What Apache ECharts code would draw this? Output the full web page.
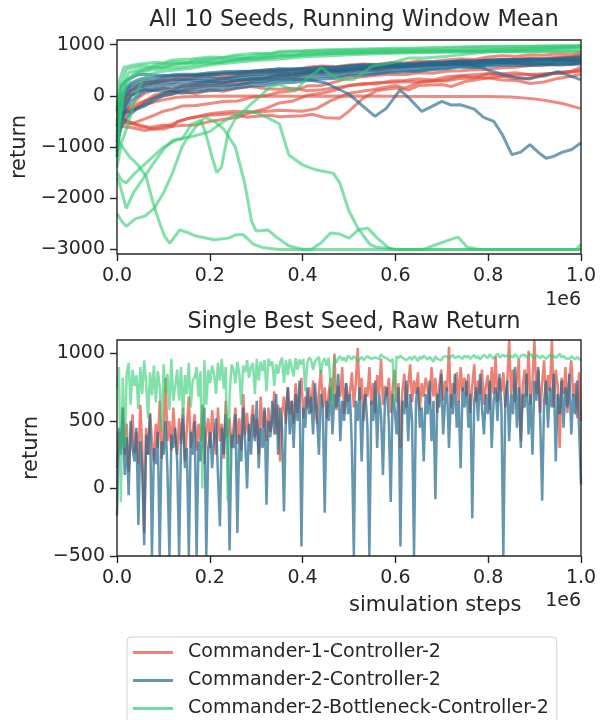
<!DOCTYPE html>
<html><head><meta charset="utf-8">
<script src="https://cdn.jsdelivr.net/npm/echarts@6/dist/echarts.min.js"></script>
<style>html,body{margin:0;padding:0;background:#fff}#c{width:604px;height:720px}</style>
</head><body><div id="c"></div>
<script>
// ---- names / labels ----
const seriesNames = ['Commander-1-Controller-2','Commander-2-Controller-2','Commander-2-Bottleneck-Controller-2'];
const xTicks = [0, 200000, 400000, 600000, 800000, 1000000];
const topYTicks = [-3000, -2000, -1000, 0, 1000];
const bottomYTicks = [-500, 0, 500, 1000];

// ---- top panel: running window mean (x in millions of steps) ----
// shared x grid for the seeds that stay inside the main band
const bandX = [0,0.005,0.01,0.02,0.03,0.045,0.06,0.08,0.1,0.12,0.14,0.17,0.2,0.23,0.26,0.29,0.32,0.35,0.38,0.41,0.44,0.47,0.5,0.53,0.56,0.59,0.62,0.65,0.68,0.71,0.74,0.77,0.8,0.83,0.86,0.89,0.92,0.95,0.98,1.0];

// Commander-1-Controller-2 seeds
const c1s1 = [[0,-500],[0.02,-300],[0.05,-200],[0.08,-120],[0.1,-80],[0.13,-30],[0.15,-20],[0.2,-10],[0.3,-5],[0.4,-10],[0.5,-5],[0.6,-10],[0.7,-12],[0.8,-15],[0.85,-25],[0.9,-60],[0.93,-100],[0.96,-150],[1.0,-250]];
const c1s2 = [[0,-200],[0.01,-450],[0.04,-550],[0.07,-620],[0.1,-570],[0.12,-600],[0.13,-500],[0.16,-430],[0.2,-380],[0.25,-350],[0.28,-420],[0.3,-400],[0.33,-380],[0.35,-410],[0.4,-390],[0.42,-360],[0.45,-430],[0.48,-440],[0.5,-300],[0.53,-50],[0.56,100],[0.6,150],[0.63,120],[0.65,200],[0.7,220],[0.72,180],[0.75,280],[0.8,350],[0.85,400],[0.9,420],[0.95,440],[1.0,480]];
const c1s3 = [[0,-300],[0.02,-500],[0.05,-600],[0.08,-650],[0.11,-580],[0.15,-450],[0.2,-350],[0.25,-300],[0.3,-320],[0.35,-280],[0.4,-300],[0.43,-250],[0.46,-100],[0.5,50],[0.55,120],[0.6,200],[0.62,150],[0.65,260],[0.7,300],[0.75,400],[0.8,430],[0.85,350],[0.88,330],[0.92,420],[0.96,450],[1.0,500]];
const c1s4 = [-100,-300,-350,-280,-250,-150,-100,-40,0,30,80,40,120,90,150,180,140,130,150,100,120,160,200,240,230,290,300,330,310,370,390,360,350,310,300,240,270,340,380,420];
const c1s5 = [-200,-350,-400,-300,-200,-50,50,110,150,120,200,240,280,250,300,330,340,390,350,420,450,440,480,510,500,540,570,580,610,620,640,650,690,680,700,720,710,740,760,780];
const c1s6 = [-300,-250,-200,-50,100,200,260,280,310,330,360,390,430,400,460,480,510,520,500,560,580,570,600,620,610,650,640,680,670,700,720,710,760,780,770,800,790,820,810,840];
const c1s7 = [-400,-450,-450,-380,-300,-200,-100,10,50,90,100,160,200,240,250,310,330,390,400,450,460,490,500,530,540,590,600,620,610,660,670,690,690,650,660,690,710,720,700,700];
const c1s8 = [-500,-510,-520,-540,-550,-500,-450,-380,-300,-260,-200,-190,-150,-110,-100,-30,0,70,100,190,200,270,350,370,400,420,410,450,440,480,490,510,520,550,560,590,600,610,630,650];
const c1s9 = [-350,-250,-200,-50,50,150,210,240,280,310,320,360,380,360,400,440,450,480,470,510,500,530,530,550,550,580,580,610,600,650,650,670,700,700,720,740,730,760,770,800];
const c1s10 = [-450,-550,-600,-610,-620,-650,-680,-650,-650,-590,-580,-570,-500,-460,-420,-320,-250,-140,-100,10,50,110,200,220,260,260,275,270,300,290,340,350,430,430,450,410,380,460,480,560];
// Commander-2-Controller-2 seeds
const c2s1 = [[0,-1000],[0.01,-300],[0.03,0],[0.06,150],[0.1,200],[0.15,250],[0.2,280],[0.25,300],[0.3,320],[0.35,330],[0.41,320],[0.45,250],[0.5,30],[0.53,-200],[0.556,-400],[0.58,-250],[0.61,117],[0.63,-50],[0.657,-305],[0.68,-200],[0.7,-110],[0.72,-180],[0.74,-175],[0.77,-260],[0.79,-420],[0.812,-500],[0.83,-750],[0.851,-1150],[0.87,-1100],[0.89,-955],[0.91,-1120],[0.925,-1220],[0.941,-1183],[0.96,-1100],[0.98,-1050],[1.0,-920]];
const c2s2 = [-900,-500,-200,0,100,150,200,230,250,260,300,340,350,330,380,410,420,450,430,470,500,490,520,540,550,570,570,590,610,610,620,600,500,420,360,330,400,470,380,310];
const c2s3 = [-800,-400,-100,100,200,260,300,310,350,390,400,400,420,450,450,480,480,500,520,530,560,560,580,600,600,620,620,640,660,660,680,680,700,710,710,720,720,730,750,760];
const c2s4 = [-1100,-700,-500,-250,-100,0,100,130,150,160,180,210,250,260,300,340,350,400,410,450,480,470,500,520,530,560,560,570,590,600,620,620,640,660,660,680,680,680,690,700];
const c2s5 = [-700,-500,-350,-320,-300,-250,-200,-90,0,40,100,130,150,170,200,260,280,350,370,400,430,420,470,490,500,530,540,540,570,590,610,600,630,650,650,650,660,680,680,690];
const c2s6 = [-600,-200,0,150,250,310,350,360,380,410,420,420,450,470,480,480,500,530,530,540,560,550,580,600,600,620,620,630,650,660,680,670,690,700,700,710,710,710,720,740];
const c2s7 = [-1200,-700,-400,-150,0,80,120,100,100,90,50,80,100,120,150,190,200,250,260,300,330,340,400,400,430,460,470,480,510,530,560,550,580,590,590,590,600,620,620,640];
const c2s8 = [-500,-250,-100,50,150,210,250,270,300,320,320,300,300,340,350,380,380,420,430,470,490,500,520,550,560,590,590,600,620,620,640,630,650,650,640,620,620,600,610,620];
const c2s9 = [-900,-750,-600,-450,-350,-240,-150,-40,50,90,150,190,200,200,220,250,250,300,310,350,380,370,420,440,450,480,490,500,530,550,580,570,600,620,620,640,630,660,660,680];
const c2s10 = [-300,0,200,300,350,410,420,400,400,380,380,400,400,430,430,460,460,470,490,490,510,500,540,570,570,590,590,610,610,640,660,650,680,700,700,710,710,720,710,720];
// Commander-2-Bottleneck-Controller-2 seeds
const bnS1 = [[0,-300],[0.005,300],[0.015,560],[0.03,590],[0.05,620],[0.08,650],[0.1,640],[0.12,700],[0.16,720],[0.2,760],[0.23,750],[0.25,790],[0.3,830],[0.33,820],[0.35,870],[0.4,880],[0.45,900],[0.5,910],[0.55,920],[0.6,930],[0.65,935],[0.7,950],[0.8,970],[0.9,975],[1.0,985]];
const bnS2 = [[0,-600],[0.008,200],[0.02,520],[0.05,580],[0.07,570],[0.09,620],[0.13,660],[0.15,650],[0.17,700],[0.21,730],[0.26,770],[0.28,760],[0.3,800],[0.35,840],[0.4,870],[0.45,880],[0.5,890],[0.6,910],[0.7,920],[0.75,940],[0.8,950],[0.9,965],[1.0,975]];
const bnS3 = [[0,-900],[0.01,100],[0.025,450],[0.05,520],[0.08,560],[0.1,550],[0.12,600],[0.16,640],[0.2,660],[0.22,650],[0.25,700],[0.3,760],[0.35,800],[0.38,790],[0.4,830],[0.45,850],[0.5,860],[0.55,870],[0.6,880],[0.7,880],[0.8,900],[0.9,930],[1.0,960]];
const bnS4 = [[0,-1200],[0.01,-200],[0.02,300],[0.04,450],[0.07,500],[0.1,540],[0.14,560],[0.18,610],[0.22,650],[0.26,700],[0.3,720],[0.35,760],[0.4,790],[0.45,820],[0.5,840],[0.6,850],[0.7,860],[0.8,870],[0.9,870],[1.0,880]];
const bnS5 = [[0,-1000],[0.006,-500],[0.015,100],[0.03,350],[0.05,480],[0.08,560],[0.12,620],[0.16,650],[0.2,690],[0.25,720],[0.3,740],[0.35,780],[0.4,810],[0.5,830],[0.6,860],[0.7,880],[0.8,900],[0.9,920],[1.0,940]];
const bnS6 = [[0,-1400],[0.01,-900],[0.024,-565],[0.04,0],[0.055,300],[0.068,410],[0.09,470],[0.12,500],[0.16,540],[0.2,600],[0.25,650],[0.3,690],[0.35,720],[0.4,760],[0.5,800],[0.6,830],[0.7,850],[0.8,860],[0.9,860],[1.0,870]];
const bnS7 = [[0,-1600],[0.005,-1700],[0.02,-2200],[0.035,-1900],[0.05,-1700],[0.08,-1300],[0.1,-1050],[0.12,-870],[0.14,-850],[0.16,-560],[0.18,-480],[0.19,-700],[0.205,-1200],[0.215,-1500],[0.225,-1400],[0.24,-700],[0.255,-450],[0.27,-330],[0.29,-150],[0.31,0],[0.33,180],[0.35,220],[0.37,150],[0.384,90],[0.41,350],[0.427,450],[0.44,550],[0.46,420],[0.48,320],[0.51,320],[0.53,450],[0.55,580],[0.59,640],[0.63,740],[0.66,740],[0.71,770],[0.76,820],[0.8,860],[0.9,900],[1.0,950]];
const bnS8 = [[0,-2300],[0.01,-2450],[0.02,-2550],[0.04,-2400],[0.06,-2350],[0.08,-2200],[0.1,-1900],[0.12,-1500],[0.14,-1000],[0.15,-850],[0.17,-600],[0.19,-420],[0.21,-500],[0.23,-650],[0.255,-1000],[0.275,-1700],[0.29,-2450],[0.3,-2640],[0.325,-2620],[0.345,-2770],[0.37,-2930],[0.4,-3000],[0.42,-2990],[0.44,-2870],[0.46,-2680],[0.48,-2700],[0.5,-2780],[0.52,-2620],[0.54,-2580],[0.56,-2770],[0.585,-2970],[0.6,-3000],[1.0,-3000]];
const bnS9 = [[0,-1500],[0.01,-1650],[0.02,-1700],[0.04,-1500],[0.07,-1250],[0.1,-1000],[0.13,-850],[0.16,-800],[0.2,-700],[0.23,-500],[0.26,-350],[0.28,-300],[0.3,-330],[0.33,-450],[0.35,-550],[0.37,-1150],[0.4,-1350],[0.43,-1450],[0.466,-1510],[0.48,-1700],[0.5,-2250],[0.52,-2600],[0.545,-2900],[0.56,-2960],[0.6,-3000],[1.0,-3000]];
const bnS10 = [[0,-700],[0.006,-930],[0.027,-1190],[0.045,-1350],[0.063,-1580],[0.078,-2100],[0.092,-2490],[0.103,-2750],[0.114,-2880],[0.135,-2620],[0.155,-2680],[0.17,-2740],[0.21,-2810],[0.24,-2780],[0.255,-2720],[0.272,-2710],[0.294,-2900],[0.316,-2970],[0.35,-3000],[0.66,-3000],[0.69,-2900],[0.715,-2820],[0.735,-2760],[0.755,-2960],[0.78,-3000],[0.99,-3000],[1.0,-2900]];

// ---- bottom panel: single best seed raw return (240 evenly spaced evaluations over 1e6 steps) ----
const rawC1 = [150,420,300,600,250,480,120,380,550,260, 420,180,620,300,-330,450,250,560,350,200, 480,300,650,220,420,820,350,500,280,600, 380,250,520,330,600,200,450,680,300,420, 550,280,480,350,620,180,420,520,300,580, 400,250,600,350,480,220,650,380,520,300, 450,600,330,520,280,700,400,560,350,480, 620,380,520,250,680,450,580,350,600,420, 500,720,400,620,200,560,680,480,750,550, 650,480,780,560,700,820,520,680,600,750, 560,800,650,480,720,880,600,750,520,700, 820,650,1000,580,760,680,900,550,780,640, 720,860,600,780,1040,650,820,500,750,680, 900,620,780,560,840,700,960,620,760,680, 820,560,750,880,640,780,300,720,850,600, 760,920,640,800,700,860,580,780,680,820, 740,620,900,680,820,560,760,880,650,800, 720,1050,600,780,700,860,640,900,720,820, 680,850,560,760,920,640,800,700,880,620, 760,840,580,900,700,980,640,820,720,860, 600,780,1100,700,880,640,820,960,350,760, 880,680,1020,620,800,1100,700,880,560,780, 950,620,840,720,1100,600,880,760,300,820, 700,900,560,820,950,680,780,520,860,500];
const rawC2 = [-200,450,250,600,100,380,-50,500,300,200, 450,-270,350,150,-420,400,250,550,-500,300, 180,420,-500,350,250,500,120,-500,400,300, 450,200,-500,380,550,150,300,-500,420,250, 500,-500,350,200,450,600,-500,300,420,150, 380,520,100,-280,450,250,550,350,-460,400, 300,550,-330,400,200,600,350,0,480,250, 550,350,650,150,450,300,600,-120,500,380, 650,400,700,250,600,450,-170,550,750,400, 650,300,700,500,800,-430,600,450,750,550, 680,400,780,550,250,700,600,-180,650,500, 750,400,700,600,850,350,650,500,780,550, 700,300,-500,650,500,750,200,600,700,450, -500,650,500,800,300,700,550,100,650,750, 500,-100,700,600,400,750,-430,650,550,800, 350,700,500,-500,650,750,450,600,200,700, 550,800,350,650,-80,700,600,850,400,650, 750,300,700,550,850,450,650,150,750,600, 800,450,700,-220,650,750,500,850,600,400, 700,550,800,300,650,750,500,850,600,-500, 650,800,350,700,550,900,450,750,300,700, 600,850,400,700,250,800,650,900,500,-90, 650,800,450,750,600,850,200,700,550,800, 450,750,600,850,400,700,550,800,450,30];
const rawBn = [750,900,-100,820,300,860,930,620,880,760, 840,590,900,700,950,780,520,860,690,910, 640,870,760,420,920,700,850,580,960,650, 760,880,650,900,520,840,700,930,600,800, 820,900,680,870,0,950,620,880,780,910, 850,700,930,800,960,740,900,-90,690,920, 880,780,940,850,620,910,860,950,820,900, 930,700,960,800,940,870,950,720,960,910, 940,760,920,850,930,970,780,950,840,960, 950,830,965,880,955,920,960,720,930,970, 950,880,940,960,975,850,940,965,910,970, 960,600,975,930,965,980,950,970,940,985, 970,955,980,965,940,960,975,950,965,980, 985,960,950,970,980,960,995,975,985,965, 975,940,960,620,980,965,985,970,960,950, 960,975,950,980,965,945,975,960,985,970, 955,975,965,940,980,960,970,950,975,965, 980,960,975,990,965,955,980,970,960,985, 970,985,960,975,990,965,980,955,975,990, 985,965,995,975,960,985,1000,970,980,990, 975,990,965,985,970,995,980,960,985,975, 990,970,985,1000,975,960,990,980,965,985, 980,960,975,990,970,985,965,980,1000,970, 985,965,975,960,980,970,955,975,960,950];

const colors = ['#e74c3c', '#22698d', '#2ecc71'];
const onBand = vals => vals.map((v, i) => [bandX[i], v]);
const topGroups = [
  [c1s1, c1s2, c1s3, onBand(c1s4), onBand(c1s5), onBand(c1s6), onBand(c1s7), onBand(c1s8), onBand(c1s9), onBand(c1s10)],
  [c2s1, onBand(c2s2), onBand(c2s3), onBand(c2s4), onBand(c2s5), onBand(c2s6), onBand(c2s7), onBand(c2s8), onBand(c2s9), onBand(c2s10)],
  [bnS1, bnS2, bnS3, bnS4, bnS5, bnS6, bnS7, bnS8, bnS9, bnS10]
];
const rawGroups = [rawC1, rawC2, rawBn];

const series = [];
topGroups.forEach((grp, gi) => {
  grp.forEach(seed => {
    series.push({
      type: 'line', name: seriesNames[gi], xAxisIndex: 0, yAxisIndex: 0,
      data: seed.map(p => [p[0] * 1e6, p[1]]),
      showSymbol: false, symbol: 'none', color: colors[gi],
      lineStyle: { width: 3, opacity: gi === 2 ? 0.6 : 0.65, color: colors[gi] },
      silent: true, z: 2 + gi
    });
  });
});
rawGroups.forEach((vals, gi) => {
  const n = vals.length;
  series.push({
    type: 'line', name: seriesNames[gi], xAxisIndex: 1, yAxisIndex: 1,
    data: vals.map((v, i) => [i * 1e6 / (n - 1), v]),
    showSymbol: false, symbol: 'none', color: colors[gi],
    lineStyle: { width: 2.5, opacity: gi === 2 ? 0.6 : 0.7, color: colors[gi] },
    silent: true, z: 2 + gi
  });
});

const FONT = 'DejaVu Sans';
const TXT = '#262626';
const minus = v => String(v).replace('-', '\u2212');

function xAxisCfg(idx) {
  return {
    type: 'value', gridIndex: idx, min: 0, max: 1000000,
    axisLine: { show: false, onZero: false }, splitLine: { show: false },
    axisTick: { show: true, length: 7, inside: false, lineStyle: { color: TXT, width: 1.4 }, customValues: xTicks },
    axisLabel: { color: TXT, fontFamily: FONT, fontSize: 19, margin: 13, customValues: xTicks,
      formatter: v => (v / 1e6).toFixed(1) }
  };
}
function yAxisCfg(idx, min, max, ticks, nameGap) {
  return {
    type: 'value', gridIndex: idx, min: min, max: max,
    name: 'return', nameLocation: 'middle', nameGap: nameGap,
    nameTextStyle: { color: TXT, fontFamily: FONT, fontSize: 21 },
    axisLine: { show: false, onZero: false }, splitLine: { show: false },
    axisTick: { show: true, length: 7, lineStyle: { color: TXT, width: 1.4 }, customValues: ticks },
    axisLabel: { color: TXT, fontFamily: FONT, fontSize: 19, margin: 12, customValues: ticks, formatter: minus }
  };
}

const chart = echarts.init(document.getElementById('c'), null, { renderer: 'canvas' });
chart.setOption({
  animation: false,
  backgroundColor: '#ffffff',
  title: [
    { text: 'All 10 Seeds, Running Window Mean', left: 349, top: 4, textAlign: 'center',
      textStyle: { fontFamily: FONT, fontSize: 22.5, fontWeight: 'normal', color: TXT } },
    { text: 'Single Best Seed, Raw Return', left: 349, top: 306, textAlign: 'center',
      textStyle: { fontFamily: FONT, fontSize: 22.5, fontWeight: 'normal', color: TXT } }
  ],
  grid: [
    { left: 117, top: 40, width: 464, height: 214, show: true, borderColor: TXT, borderWidth: 1.4, backgroundColor: 'transparent', z: 10 },
    { left: 117, top: 340, width: 464, height: 216, show: true, borderColor: TXT, borderWidth: 1.4, backgroundColor: 'transparent', z: 10 }
  ],
  xAxis: [xAxisCfg(0), xAxisCfg(1)],
  yAxis: [
    yAxisCfg(0, -3090, 1090, topYTicks, 84),
    yAxisCfg(1, -500, 1100, bottomYTicks, 72)
  ],
  legend: {
    orient: 'vertical', left: 127, top: 637, height: 200, width: 480,
    data: seriesNames.map(n => ({ name: n, icon: 'rect' })),
    itemWidth: 40, itemHeight: 3, itemGap: 7,
    padding: [5, 8, 8, 6],
    borderColor: '#d0d0d0', borderWidth: 1, borderRadius: 4, backgroundColor: '#fff',
    textStyle: { fontFamily: FONT, fontSize: 19, color: TXT, padding: [0, 0, 0, 10], lineHeight: 21 },
    itemStyle: { opacity: 0.7 },
    selectedMode: false
  },
  graphic: [
    { type: 'text', right: 23, top: 291, style: { text: '1e6', font: '19px "DejaVu Sans"', fill: TXT, textAlign: 'right' } },
    { type: 'text', right: 23, top: 592, style: { text: '1e6', font: '19px "DejaVu Sans"', fill: TXT, textAlign: 'right' } },
    { type: 'text', left: 349, top: 595, style: { text: 'simulation steps', font: '21px "DejaVu Sans"', fill: TXT, textAlign: 'center' } }
  ],
  series: series
});
</script>
</body></html>
